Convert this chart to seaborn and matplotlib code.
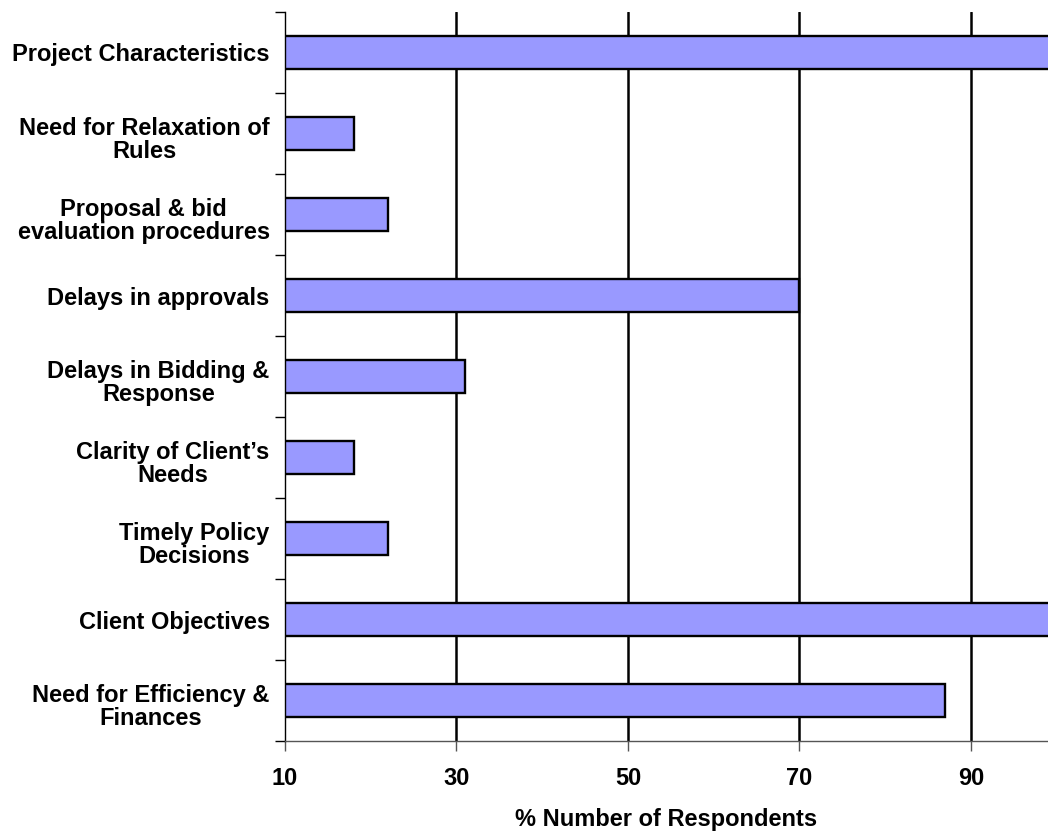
import matplotlib
matplotlib.use("Agg")
import matplotlib.pyplot as plt
import matplotlib.transforms as mtransforms
from matplotlib.ticker import FixedLocator
import seaborn as sns
import pandas as pd
import numpy as np

categories = [
    "Project Characteristics",
    "Need for Relaxation of\nRules",
    "Proposal & bid\nevaluation procedures",
    "Delays in approvals",
    "Delays in Bidding &\nResponse",
    "Clarity of Client\u2019s\nNeeds",
    "Timely Policy\nDecisions",
    "Client Objectives",
    "Need for Efficiency &\nFinances",
]
respondents_pct = [100, 18, 22, 70, 31, 18, 22, 100, 87]
x_ticks = [10, 30, 50, 70, 90]

sns.set_theme(style="white")
plt.rcParams["font.family"] = ["Liberation Sans", "DejaVu Sans"]
plt.rcParams["font.weight"] = "bold"

FS = 17

df = pd.DataFrame({"factor": categories, "pct": respondents_pct})

fig = plt.figure(figsize=(10.48, 8.32), dpi=100)
ax = fig.add_axes([285 / 1048, 1 - 741 / 832, 1 - 285 / 1048, (741 - 12) / 832])

sns.barplot(data=df, y="factor", x="pct", orient="h", color="#9999FF",
            saturation=1, width=0.41, edgecolor="black", linewidth=1.7,
            ax=ax)

ax.set_xlim(10, 99)
ax.set_ylim(len(categories) - 0.5, -0.5)
ax.set_xticks(x_ticks)
ax.set_xticklabels([str(t) for t in x_ticks], fontsize=FS, fontweight="bold")

ax.set_axisbelow(True)
ax.grid(False)
for t in x_ticks[1:]:
    ax.axvline(t, color="black", linewidth=1.8, zorder=0)

# category labels centred on bars, tick marks on category boundaries
ax.tick_params(axis="y", which="major", length=0, pad=11)
ax.yaxis.set_minor_locator(FixedLocator(np.arange(-0.5, len(categories), 1.0)))
ax.tick_params(axis="y", which="minor", left=True, length=7, width=1.0, color="black")
shift_down = mtransforms.ScaledTranslation(0, -4 / 100, fig.dpi_scale_trans)
for lbl in ax.get_yticklabels():
    lbl.set_fontsize(FS)
    lbl.set_fontweight("bold")
    lbl.set_multialignment("center")
    lbl.set_linespacing(1.0)
    lbl.set_color("black")
    if "\n" in lbl.get_text():
        lbl.set_transform(lbl.get_transform() + shift_down)

ax.tick_params(axis="x", which="major", bottom=True, length=7, width=1.0,
               color="#555555", pad=12, labelcolor="black")

for side in ("top", "right"):
    ax.spines[side].set_visible(False)
ax.spines["left"].set_color("black")
ax.spines["left"].set_linewidth(1.0)
ax.spines["bottom"].set_color("#555555")
ax.spines["bottom"].set_linewidth(1.0)

ax.set_ylabel("")
ax.set_xlabel("% Number of Respondents", fontsize=FS, fontweight="bold",
              labelpad=13, color="black")

fig.savefig("out.png", dpi=100)
